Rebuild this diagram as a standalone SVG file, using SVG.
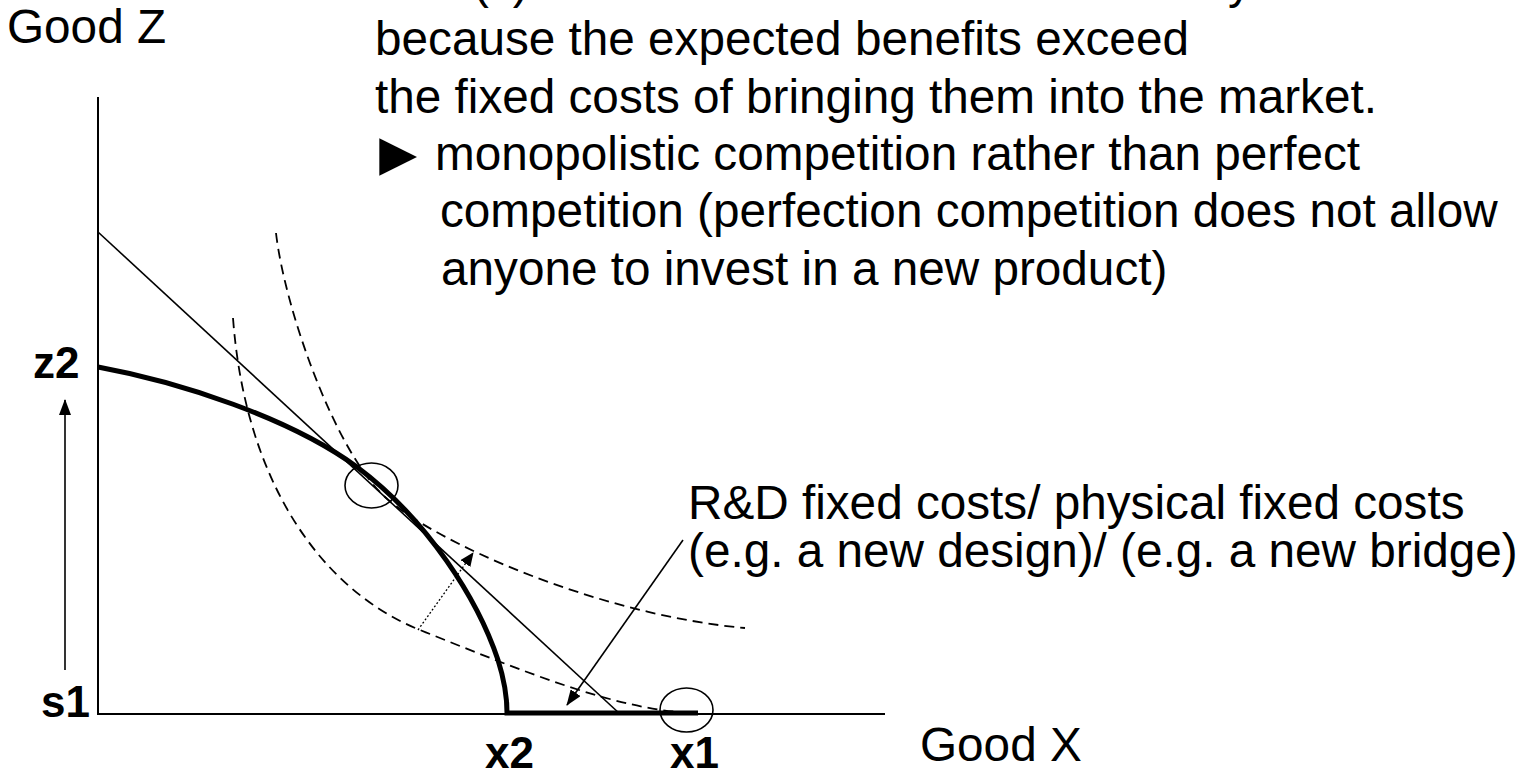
<svg xmlns="http://www.w3.org/2000/svg" width="1537" height="771" viewBox="0 0 1537 771">
<style>
.t{font-family:"Liberation Sans",Arial,sans-serif;font-size:47.7px;fill:#000}
.b{font-family:"Liberation Sans",Arial,sans-serif;font-size:44px;font-weight:bold;fill:#000}
.ax{stroke:#000;stroke-width:2;fill:none}
.thin{stroke:#000;stroke-width:1.6;fill:none}
.thick{stroke:#000;stroke-width:5;fill:none}
.dash{stroke:#000;stroke-width:1.8;fill:none;stroke-dasharray:10 6}
.dot{stroke:#000;stroke-width:1.3;fill:none;stroke-dasharray:2 2}
</style>
<defs>
<marker id="ah" markerWidth="16" markerHeight="12" refX="15" refY="6" orient="auto" markerUnits="userSpaceOnUse"><path d="M0,0 L16,6 L0,12 Z" fill="#000"/></marker>
<marker id="ahs" markerWidth="14" markerHeight="12" refX="13" refY="6" orient="auto" markerUnits="userSpaceOnUse"><path d="M0,0 L14,6 L0,12 Z" fill="#000"/></marker>
</defs>
<g id="text-block">
<text class="t" x="473" y="-2.5">(x)</text>
<text class="t" x="1228" y="-2.5">y</text>
<text class="t" x="375" y="55">because the expected benefits exceed</text>
<text class="t" x="375" y="113">the fixed costs of bringing them into the market.</text>
<text class="t" x="367" y="175" style="font-size:63px">►</text>
<text class="t" x="435" y="170">monopolistic competition rather than perfect</text>
<text class="t" x="440" y="227">competition (perfection competition does not allow</text>
<text class="t" x="441" y="285">anyone to invest in a new product)</text>
</g>
<g id="axes">
<line class="ax" x1="98" y1="97" x2="98" y2="714"/>
<line class="ax" x1="97" y1="714" x2="885" y2="714"/>
<text class="t" x="7" y="43">Good Z</text>
<text class="t" x="920" y="761">Good X</text>
</g>
<g id="labels">
<text class="b" x="33" y="378">z2</text>
<text class="b" x="41" y="717">s1</text>
<text class="b" x="485" y="768">x2</text>
<text class="b" x="670" y="768">x1</text>
</g>
<g id="rd-label">
<text class="t" x="688" y="519">R&amp;D fixed costs/ physical fixed costs</text>
<text class="t" x="688" y="567">(e.g. a new design)/ (e.g. a new bridge)</text>
</g>
<g id="curves">
<path class="thin" d="M98,232 L620,714"/>
<path class="thick" d="M98,367 C180,382 290,418 357,467 C428,520 478,600 498,660 C505,682 507,700 507,713 L698,713"/>
<path class="dash" d="M276,233 C285,310 335,451 385,497 C435,543 600,615 745,628"/>
<path class="dash" d="M233,318 C245,480 320,590 420,630 C520,670 620,712 697,713"/>
<ellipse class="thin" cx="371.5" cy="485.5" rx="26.5" ry="22.5"/>
<ellipse class="thin" cx="686.5" cy="710" rx="26.5" ry="22"/>
</g>
<g id="connectors">
<line class="dot" x1="418" y1="630" x2="473" y2="553" marker-end="url(#ahs)"/>
<line class="thin" x1="683" y1="540" x2="567" y2="705" marker-end="url(#ah)"/>
<line class="thin" x1="65" y1="670" x2="65" y2="400" marker-end="url(#ah)"/>
</g>
</svg>
